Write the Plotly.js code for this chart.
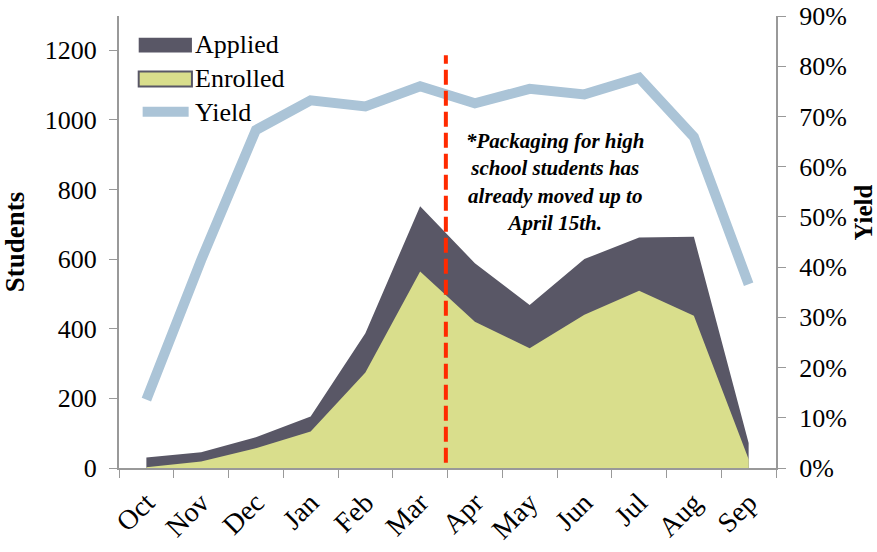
<!DOCTYPE html>
<html>
<head>
<meta charset="utf-8">
<script src="https://cdn.plot.ly/plotly-3.0.1.min.js"></script>
<style>html,body{margin:0;padding:0;background:#fff;}#chart{width:877px;height:552px;}</style>
</head>
<body>
<div id="chart"></div>
<script>
const months = ["Oct","Nov","Dec","Jan","Feb","Mar","Apr","May","Jun","Jul","Aug","Sep"];
const applied = [30, 45, 88, 148, 387, 752, 588, 468, 600, 662, 664, 72];
const enrolled = [2, 19, 57, 105, 274, 564, 420, 344, 440, 509, 437, 25];
const yieldPct = [0.136, 0.414, 0.673, 0.732, 0.720, 0.760, 0.726, 0.755, 0.744, 0.777, 0.659, 0.366];
const seriesNames = ["Applied", "Enrolled", "Yield"];
const seriesColors = ["#595766", "#d9de8c", "#abc4d7"];
const markerPos = 5.47;           // category position of the dashed marker
const markerRange = [15, 1185];   // students axis span of the marker
const noteText = "<b><i>*Packaging for high<br>school students has<br>already moved up to<br>April 15th.</i></b>";

const serif = '"Liberation Serif", "Times New Roman", serif';

const traces = [
  {x: months, y: applied, name: seriesNames[0], type: "scatter", mode: "lines",
   fill: "tozeroy", fillcolor: seriesColors[0], line: {color: seriesColors[0], width: 0}},
  {x: months, y: enrolled, name: seriesNames[1], type: "scatter", mode: "lines",
   fill: "tozeroy", fillcolor: seriesColors[1], line: {color: seriesColors[1], width: 0}},
  {x: months, y: yieldPct, name: seriesNames[2], type: "scatter", mode: "lines",
   yaxis: "y2", line: {color: seriesColors[2], width: 10}}
];

// custom legend (wide swatches like the original)
const legShapes = [
  {type: "rect", xref: "paper", yref: "paper", x0: 0.030, x1: 0.111, y0: 0.952, y1: 0.919,
   fillcolor: seriesColors[0], line: {width: 0}},
  {type: "rect", xref: "paper", yref: "paper", x0: 0.030, x1: 0.111, y0: 0.877, y1: 0.844,
   fillcolor: seriesColors[1], line: {width: 2, color: "#595766"}},
  {type: "line", xref: "paper", yref: "paper", x0: 0.036, x1: 0.106, y0: 0.788, y1: 0.788,
   line: {width: 10, color: seriesColors[2]}}
];
const legY = [0.936, 0.861, 0.786];
const legAnn = seriesNames.map((n, i) => ({
  xref: "paper", yref: "paper", x: 0.112, y: legY[i], xanchor: "left", yanchor: "middle",
  text: n, showarrow: false, font: {family: serif, size: 26, color: "#000"}
}));

const layout = {
  width: 877, height: 552,
  margin: {l: 119, r: 101, t: 16, b: 84},
  paper_bgcolor: "#fff", plot_bgcolor: "#fff",
  font: {family: serif, size: 26, color: "#000"},
  showlegend: false,
  xaxis: {type: "category", range: [-0.5, 11.5], tickangle: -45, tickson: "boundaries",
          ticks: "outside", ticklen: 8, tickcolor: "#999", showline: true, linecolor: "#999",
          linewidth: 2, showgrid: false, zeroline: false, ticklabelstandoff: 5,
          tickfont: {family: serif, size: 28}},
  yaxis: {range: [0, 1298], dtick: 200, tick0: 0, ticks: "outside", ticklen: 8, tickcolor: "#999",
          showline: true, linecolor: "#999", linewidth: 2, showgrid: false, zeroline: false,
          ticklabelstandoff: 7,
          tickfont: {family: serif, size: 26},
          title: {text: "<b>Students</b>", font: {family: serif, size: 27}, standoff: 16}},
  yaxis2: {overlaying: "y", side: "right", range: [0, 0.9], dtick: 0.1, tickformat: ".0%",
           ticks: "outside", ticklen: 8, tickcolor: "#999", showline: true, linecolor: "#999",
           linewidth: 2, showgrid: false, zeroline: false, ticklabelstandoff: 8,
           tickfont: {family: serif, size: 26}},
  shapes: [
    {type: "line", xref: "x", yref: "y", x0: markerPos, x1: markerPos,
     y0: markerRange[0], y1: markerRange[1],
     line: {color: "#ff2a00", width: 4, dash: "15px,6px"}}
  ].concat(legShapes),
  annotations: [
    {xref: "x", yref: "y", x: 7.47, y: 822, text: noteText, showarrow: false,
     font: {family: serif, size: 21, color: "#000"}, align: "center"},
    {xref: "paper", yref: "paper", x: 1.133, y: 0.566, xanchor: "center", yanchor: "middle",
     text: "<b>Yield</b>", textangle: -90, showarrow: false,
     font: {family: serif, size: 25, color: "#000"}}
  ].concat(legAnn)
};

Plotly.newPlot("chart", traces, layout, {displayModeBar: false, staticPlot: true});
</script>
</body>
</html>
